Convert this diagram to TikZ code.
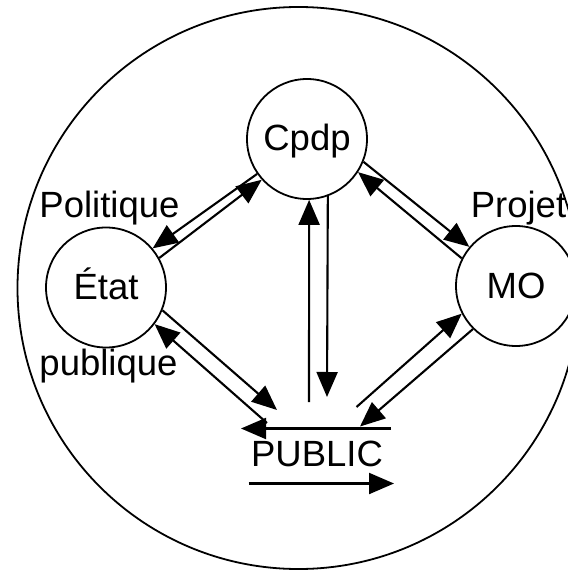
\documentclass[tikz,border=0pt]{standalone}
\usepackage{fontspec}
\setmainfont{Liberation Sans}
\usetikzlibrary{arrows.meta}
\begin{document}
\begin{tikzpicture}[x=1bp,y=-1bp,
  every node/.style={font=\fontsize{36.5bp}{40bp}\selectfont},
  ring/.style={draw, circle, line width=1.8bp, minimum size=120bp, inner sep=0pt, text height=26bp, text depth=2bp},
  arr/.style={line width=2.1bp, -{Triangle[length=25bp,width=21bp]}},
  lbl/.style={anchor=base, inner sep=0pt}]
\clip (0,0) rectangle (568,570);
\node[draw, circle, line width=1.8bp, minimum size=562bp, inner sep=0pt] (outer) at (298.5,288) {};
\node[ring] (cpdp) at (307,139) {Cpdp};
\node[ring] (etat) at (106,287.5) {État};
\node[ring] (mo) at (516,286) {MO};
\node[lbl] (pol) at (109.5,217) {Politique};
\node[lbl] (pub) at (108.5,375) {publique};
\node[lbl] (proj) at (518.5,217) {Projet};
\node[lbl] (public) at (317,466.7) {PUBLIC};
\coordinate (pA) at (327,397);
\coordinate (pB) at (309,402);
\coordinate (pC) at (277,410);
\coordinate (pD) at (267,423);
\coordinate (pE) at (356.5,407);
\coordinate (pF) at (360,426.5);
\coordinate (tl) at (391,428.5);
\coordinate (tr) at (241,428.5);
\coordinate (bl) at (248.5,483.5);
\coordinate (br) at (394,483.5);
\draw[arr] (cpdp.215) -- (etat.40);
\draw[arr] (etat.29) -- (cpdp.222);
\draw[arr] (cpdp.-22) -- (mo.140);
\draw[arr] (mo.153) -- (cpdp.-33);
\draw[arr] (cpdp.-70) -- (pA);
\draw[arr] (pB) -- (cpdp.-88);
\draw[arr] (etat.-22) -- (pC);
\draw[arr] (pD) -- (etat.-37);
\draw[arr] (pE) -- (mo.207);
\draw[arr] (mo.225) -- (pF);
\draw[arr] (tl) -- (tr);
\draw[arr] (bl) -- (br);
\end{tikzpicture}
\end{document}
